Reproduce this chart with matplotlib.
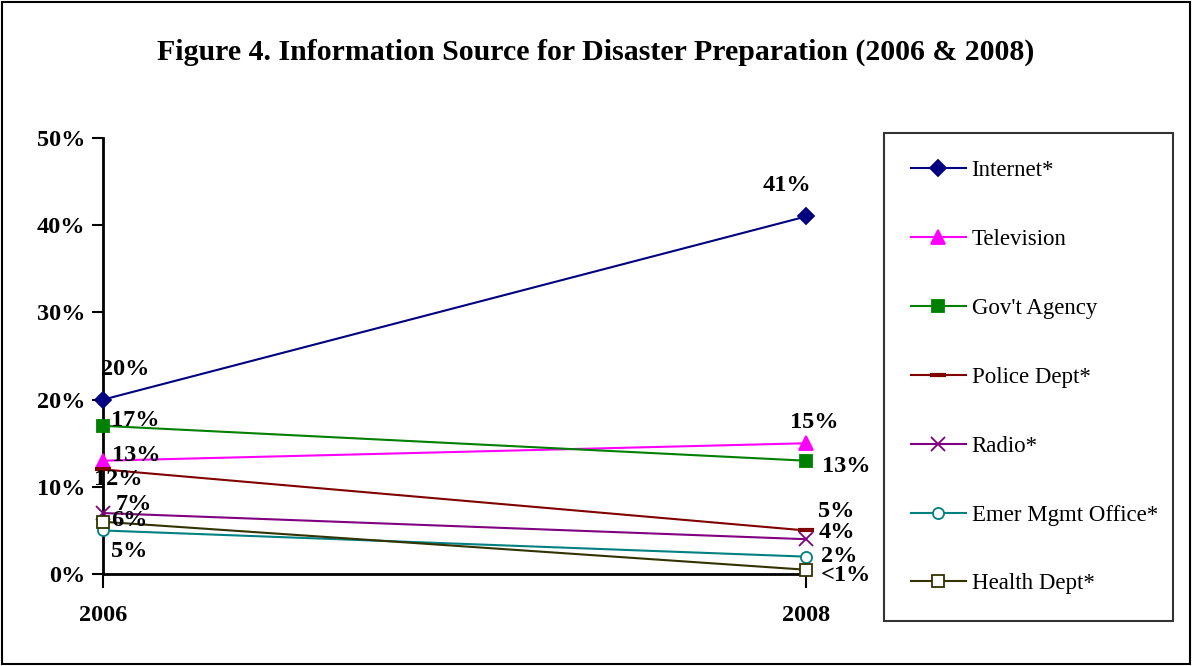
import matplotlib
matplotlib.use("Agg")
import matplotlib.pyplot as plt
from matplotlib.patches import Rectangle

plt.rcParams['font.family'] = ['Liberation Serif', 'DejaVu Serif']

# --- data ---
years = ["2006", "2008"]
series = ["Internet*", "Television", "Gov't Agency", "Police Dept*",
          "Radio*", "Emer Mgmt Office*", "Health Dept*"]
values_2006 = [20, 13, 17, 12, 7, 5, 6]
values_2008 = [41, 15, 13, 5, 4, 2, 0.5]
labels_2006 = ["20%", "13%", "17%", "12%", "7%", "5%", "6%"]
labels_2008 = ["41%", "15%", "13%", "5%", "4%", "2%", "<1%"]

colors = ["#000080", "#FF00FF", "#008000", "#800000", "#800080", "#008080", "#333300"]
markers = ["D", "^", "s", "_", "x", "o", "s"]
marker_sizes = [8, 10, 9, 12, 10, 8, 8]
filled = [True, True, True, True, True, False, False]

# label offsets (points) for 2006 and 2008 points
off_2006 = [(16, 22), (24, 4), (23, 4), (11, -7), (22, 6), (19, -15), (19, 1)]
off_2008 = [(-14, 22), (6, 15), (29, -4), (22, 14), (22, 5), (24, 0), (29, -4)]

fig = plt.figure(figsize=(11.92, 6.66), dpi=100)
ax = fig.add_axes([0.0864, 0.138, 0.5898, 0.6548])

x = [0, 1]
handles = []
for i, name in enumerate(series):
    ys = [values_2006[i] / 100, values_2008[i] / 100]
    mfc = colors[i] if filled[i] else "white"
    mew = 3 if markers[i] == "_" else 1.3
    h, = ax.plot(x, ys, color=colors[i], lw=1.5, marker=markers[i],
                 ms=marker_sizes[i], mfc=mfc, mec=colors[i], mew=mew,
                 clip_on=False, zorder=3, label=name)
    handles.append(h)
    for xi, yi, txt, off in [(0, ys[0], labels_2006[i], off_2006[i]),
                             (1, ys[1], labels_2008[i], off_2008[i])]:
        ax.annotate(txt, (xi, yi), xytext=off, textcoords="offset points",
                    ha="center", va="center", fontsize=17.5, fontweight="bold",
                    zorder=4)

ax.set_xlim(0, 1)
ax.set_ylim(0, 0.5)
ax.set_xticks(x)
ax.set_xticklabels(years)
ax.set_yticks([0, 0.1, 0.2, 0.3, 0.4, 0.5])
ax.set_yticklabels(["0%", "10%", "20%", "30%", "40%", "50%"])
for lab in ax.get_xticklabels() + ax.get_yticklabels():
    lab.set_fontweight("bold")
    lab.set_fontsize(17.5)
ax.tick_params(axis="y", direction="out", length=8, width=1.5, pad=5)
ax.tick_params(axis="x", direction="out", length=10, width=1.5, pad=12)
for s in ["top", "right"]:
    ax.spines[s].set_visible(False)
for s in ["left", "bottom"]:
    ax.spines[s].set_linewidth(2)
ax.patch.set_visible(False)

fig.text(0.5, 0.921, "Figure 4. Information Source for Disaster Preparation (2006 & 2008)",
         ha="center", va="center", fontsize=21.5, fontweight="bold")

leg = fig.legend(handles=handles, loc="upper left",
                 bbox_to_anchor=(884 / 1192, 1 - 133 / 666, 289 / 1192, 0.0),
                 mode="expand", fontsize=16.5, handlelength=2.4, handletextpad=0.25,
                 labelspacing=2.09, borderpad=1.17, fancybox=False, frameon=True,
                 borderaxespad=0)
leg.get_frame().set_edgecolor("black")
leg.get_frame().set_linewidth(1.5)

fig.patches.append(Rectangle((0.002, 0.003), 0.996, 0.994, transform=fig.transFigure,
                             fill=False, edgecolor="black", lw=1.5))

fig.savefig("out.png", dpi=100)
